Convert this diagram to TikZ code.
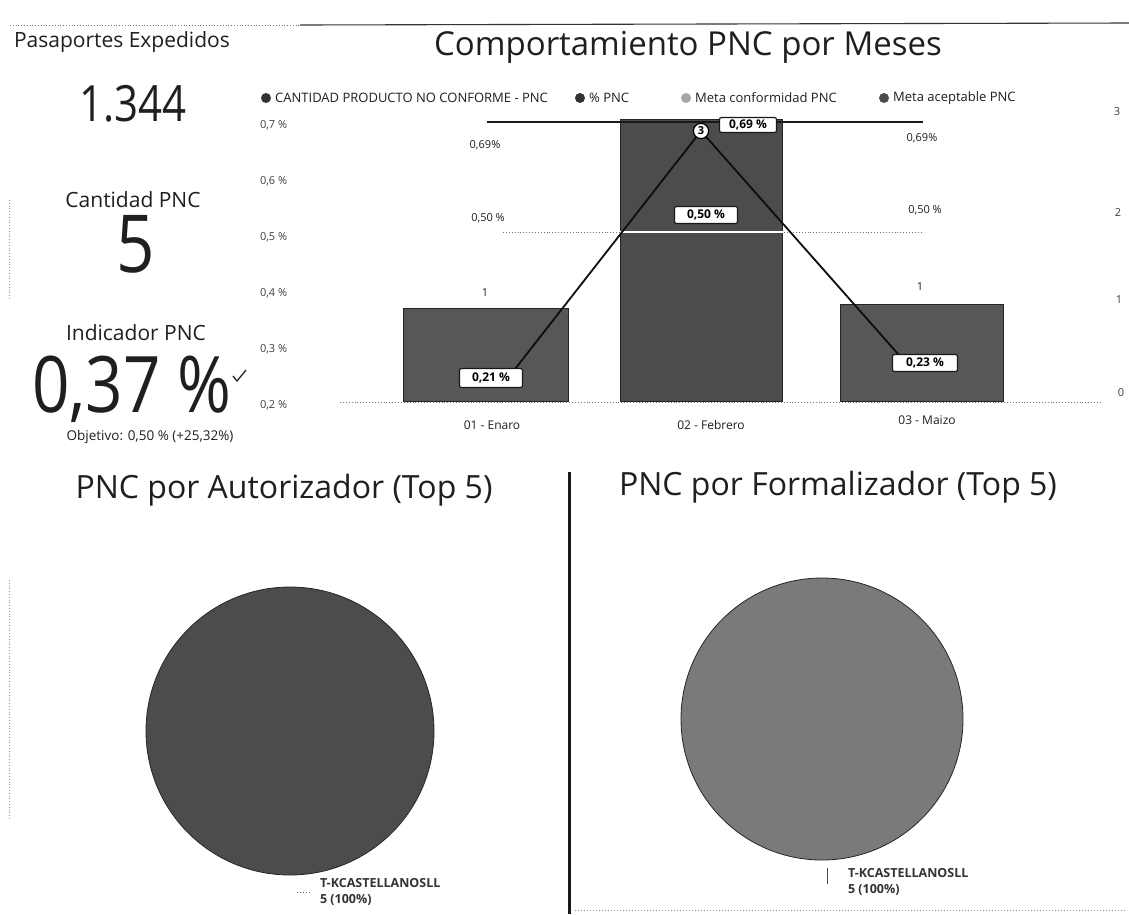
\documentclass[tikz,border=0pt]{standalone}
\usepackage{fontspec}
\setmainfont{Open Sans}
\newfontfamily\numfont[FakeStretch=0.84]{Open Sans}
\newcommand{\fsz}[1]{\fontsize{#1}{#1}\selectfont}
\begin{document}
\begin{tikzpicture}[x=1pt,y=-1pt,
  txt/.style={inner sep=0pt,outer sep=0pt,text=black!88},
  axl/.style={txt,font=\fsz{11},text=black!75},
  dlab/.style={txt,font=\fsz{11}},
  vbox/.style={draw=black!90,fill=white,rounded corners=2pt,inner sep=0pt,font=\fsz{12}\bfseries,line width=1.2pt},
  barn/.style={draw=black!85,fill=black!66,line width=0.8pt,inner sep=0pt,anchor=south west},
  pien/.style={circle,draw=black!85,line width=0.8pt,inner sep=0pt},
  legdot/.style={circle,fill=black!80,inner sep=0pt,minimum size=10pt},
  legtxt/.style={txt,font=\fsz{13},anchor=west},
  bigtitle/.style={txt,font=\fsz{33}},
  kpi/.style={txt,font=\fsz{21}},
  plab/.style={txt,font=\fsz{12.5}\bfseries,anchor=west,text=black!80},
  tline/.style={black!90,line width=1.2pt},
  dline/.style={black!55,line width=0.9pt,dotted},
]
\useasboundingbox[fill=white] (0,0) rectangle (1129,914);

% top rule
\coordinate (tl1) at (10,25);
\coordinate (tl2) at (300,25);
\coordinate (tl3) at (1129,23);
\draw[black!55,line width=0.8pt,dotted] (tl1) -- (tl2);
\draw[black!80,line width=1.1pt] (tl2) -- (tl3);

% faint scan specks at the left edge
\coordinate (sp1) at (9,200);
\coordinate (sp2) at (9,300);
\coordinate (sp3) at (9,580);
\coordinate (sp4) at (9,820);
\draw[black!40,line width=0.8pt,dotted] (sp1) -- (sp2);
\draw[black!40,line width=0.8pt,dotted] (sp3) -- (sp4);

% ---------- left KPI column ----------
\node[kpi,anchor=west] (pasT) at (14,42) {Pasaportes Expedidos};
\node[txt,font=\numfont\fsz{50}] (pasV) at (133,104) {1.344};
\node[kpi] (canT) at (133,200) {Cantidad PNC};
\node[txt,font=\numfont\fsz{80}] (canV) at (136,244) {5};
\node[kpi] (indT) at (136,333) {Indicador PNC};
\node[txt,font=\numfont\fsz{78}] (indV) at (132,389) {0,37 \%};
\coordinate (ck1) at (233,376);
\coordinate (ck2) at (237,381);
\coordinate (ck3) at (246,370);
\draw[black!85,line width=1.3pt] (ck1) -- (ck2) -- (ck3);
\node[txt,font=\fsz{13.5}] (objT) at (150,437) {Objetivo: 0,50 \% (+25,32\%)};

% ---------- chart title and legend ----------
\node[bigtitle] (chT) at (688,47) {Comportamiento PNC por Meses};
\node[legdot] (ld1) at (266,98) {};
\node[legtxt] (lt1) at ([xshift=4pt]ld1.east) {CANTIDAD PRODUCTO NO CONFORME - PNC};
\node[legdot] (ld2) at (580,98) {};
\node[legtxt] (lt2) at ([xshift=4pt]ld2.east) {\% PNC};
\node[legdot,fill=black!35] (ld3) at (686,98) {};
\node[legtxt] (lt3) at ([xshift=4pt]ld3.east) {Meta conformidad PNC};
\node[legdot,fill=black!70] (ld4) at (884,98) {};
\node[legtxt] (lt4) at ([xshift=4pt]ld4.east) {Meta aceptable PNC};

% axes labels
\node[axl,anchor=west] (a7) at (260,125) {0,7 \%};
\node[axl,anchor=west] (a6) at (260,181) {0,6 \%};
\node[axl,anchor=west] (a5) at (260,237) {0,5 \%};
\node[axl,anchor=west] (a4) at (260,293) {0,4 \%};
\node[axl,anchor=west] (a3) at (260,349) {0,3 \%};
\node[axl,anchor=west] (a2) at (260,405) {0,2 \%};
\node[axl] (r3) at (1117,112) {3};
\node[axl] (r2) at (1118,213) {2};
\node[axl] (r1) at (1119,300) {1};
\node[axl] (r0) at (1121,393) {0};

% baseline and 0,50 target (behind bars)
\coordinate (bl1) at (340,402);
\coordinate (bl2) at (1100,402);
\draw[dline] (bl1) -- (bl2);
\coordinate (m5a) at (503,232);
\coordinate (m5b) at (922,232);
\draw[dline] (m5a) -- (m5b);

% bars
\node[barn,minimum width=165pt,minimum height=93pt] (bEn) at (403,402) {};
\node[barn,minimum width=162pt,minimum height=282pt,fill=black!70] (bFe) at (620,402) {};
\node[barn,minimum width=163pt,minimum height=97pt] (bMa) at (840,402) {};

% white 0,50 line across Febrero bar
\draw[white,line width=1.6pt] (bFe.west |- m5a) -- (bFe.east |- m5a);

% 0,69 target line
\coordinate (m7a) at (487,122);
\coordinate (m7b) at (923,122);
\draw[tline] (m7a) -- (m7b);

% % PNC line (ends hidden under the value boxes)
\coordinate (pA) at (508,378);
\coordinate (pB) at (701,131);
\coordinate (pC) at (906,363);
\draw[black!95,line width=1.8pt] (pA) -- (pB) -- (pC);

% data labels
\node[dlab] (l69a) at (485,145) {0,69\%};
\node[dlab] (l50a) at (488,218) {0,50 \%};
\node[dlab] (c1a) at (485,293) {1};
\node[vbox,minimum width=63pt,minimum height=19pt] (v21) at (491,378) {0,21 \%};
\node[circle,draw=black,fill=white,line width=1.2pt,inner sep=1.8pt,font=\fsz{11}\bfseries] (c3) at (pB) {3};
\node[vbox,minimum width=57pt,minimum height=15pt] (v69) at (748,125) {0,69 \%};
\node[vbox,minimum width=63pt,minimum height=17pt] (v50) at (706,215) {0,50 \%};
\node[dlab] (l69c) at (922,138) {0,69\%};
\node[dlab] (l50c) at (925,210) {0,50 \%};
\node[dlab] (c1c) at (920,287) {1};
\node[vbox,minimum width=65pt,minimum height=17pt] (v23) at (925,363) {0,23 \%};

% x labels
\node[dlab,font=\fsz{12}] (xEn) at (492,425) {01 - Enaro};
\node[dlab,font=\fsz{12}] (xFe) at (711,425) {02 - Febrero};
\node[dlab,font=\fsz{12}] (xMa) at (927,420) {03 - Maizo};

% ---------- bottom: pies ----------
\node[bigtitle,font=\fsz{32}] (pT1) at (284,490) {PNC por Autorizador (Top 5)};
\node[bigtitle,font=\fsz{32}] (pT2) at (838,487) {PNC por Formalizador (Top 5)};
\coordinate (dv1) at (569,472);
\coordinate (dv2) at (569,914);
\draw[black!90,line width=3pt] (dv1) -- (dv2);

\node[pien,minimum size=288pt,fill=black!70] (pie1) at (290,731) {};
\node[pien,minimum size=282pt,fill=black!52] (pie2) at (822,719) {};

\node[plab] (pl1a) at (320,883) {T-KCASTELLANOSLL};
\node[plab] (pl1b) at (320,900) {5 (100\%)};
\coordinate (ld1a) at (297,892);
\coordinate (ld1b) at (312,892);
\draw[black!60,line width=1pt,dotted] (ld1a) -- (ld1b);
\node[plab] (pl2a) at (848,873) {T-KCASTELLANOSLL};
\node[plab] (pl2b) at (848,890) {5 (100\%)};
\coordinate (ld2a) at (827,868);
\coordinate (ld2b) at (827,884);
\draw[black!70,line width=1pt] (ld2a) -- (ld2b);

% faint scan footer
\coordinate (ft1) at (575,910);
\coordinate (ft2) at (1126,910);
\draw[black!45,line width=1pt,dotted] (ft1) -- (ft2);
\end{tikzpicture}
\end{document}
